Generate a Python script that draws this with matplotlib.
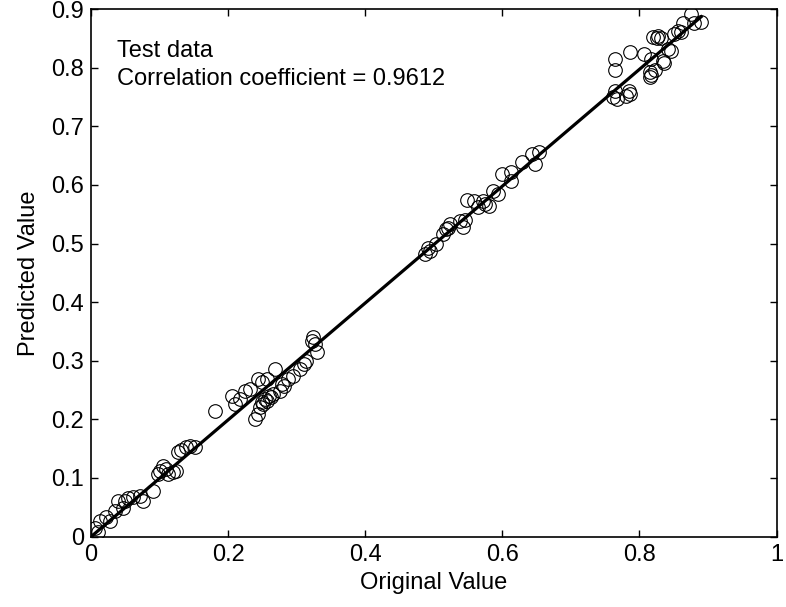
import numpy as np
import matplotlib.pyplot as plt

plt.rcParams['font.family'] = ['Liberation Sans', 'DejaVu Sans']

# original (target) values of the test set
original = [
    0.006, 0.013, 0.010, 0.022, 0.028, 0.035, 0.039, 0.047, 0.050, 0.054,
    0.061, 0.071, 0.076, 0.090, 0.098, 0.100, 0.105, 0.109, 0.112, 0.119,
    0.124, 0.127, 0.131, 0.138, 0.144, 0.151,
    0.180, 0.205, 0.210, 0.217, 0.224, 0.231, 0.239, 0.243, 0.246, 0.249,
    0.250, 0.253, 0.256, 0.260, 0.263, 0.265, 0.249, 0.243, 0.256, 0.268,
    0.275, 0.278, 0.282, 0.287, 0.294, 0.304, 0.311, 0.314, 0.322, 0.323,
    0.329, 0.326,
    0.487, 0.491, 0.494, 0.503, 0.513, 0.517, 0.523, 0.520, 0.538, 0.542,
    0.545, 0.549, 0.559, 0.564, 0.571, 0.575, 0.581, 0.586, 0.593, 0.600,
    0.612, 0.612, 0.629, 0.643, 0.648, 0.654,
    0.764, 0.764, 0.786, 0.806, 0.817, 0.820, 0.827, 0.832, 0.825, 0.835,
    0.836, 0.842, 0.846, 0.851, 0.856, 0.861, 0.864, 0.875, 0.890, 0.880,
    0.815, 0.817, 0.822, 0.815, 0.764, 0.762, 0.767, 0.784, 0.786, 0.780,
]

# network outputs for the same samples
predicted = [
    0.014, 0.027, 0.008, 0.034, 0.027, 0.044, 0.061, 0.048, 0.061, 0.065,
    0.068, 0.070, 0.061, 0.078, 0.107, 0.112, 0.121, 0.116, 0.107, 0.110,
    0.112, 0.145, 0.147, 0.153, 0.155, 0.153,
    0.214, 0.240, 0.226, 0.235, 0.248, 0.252, 0.200, 0.209, 0.221, 0.230,
    0.226, 0.235, 0.231, 0.240, 0.238, 0.243, 0.264, 0.269, 0.269, 0.286,
    0.248, 0.260, 0.257, 0.269, 0.274, 0.286, 0.294, 0.299, 0.333, 0.340,
    0.315, 0.328,
    0.482, 0.493, 0.487, 0.499, 0.516, 0.524, 0.533, 0.527, 0.538, 0.529,
    0.541, 0.575, 0.572, 0.562, 0.572, 0.567, 0.564, 0.589, 0.584, 0.618,
    0.622, 0.606, 0.639, 0.652, 0.635, 0.656,
    0.815, 0.796, 0.826, 0.823, 0.815, 0.852, 0.854, 0.850, 0.850, 0.811,
    0.808, 0.832, 0.829, 0.857, 0.863, 0.861, 0.876, 0.891, 0.878, 0.876,
    0.792, 0.787, 0.796, 0.784, 0.760, 0.750, 0.746, 0.760, 0.755, 0.752,
]

# fitted regression line
fit_x = [0.0, 0.89]
fit_y = [0.0, 0.887]

r_value = 0.9612

fs = 17

fig = plt.figure(figsize=(7.86, 6.07), dpi=100)
ax = fig.add_axes([0.116, 0.116, 0.872, 0.869])

ax.plot(original, predicted, 'o', mfc='none', mec='black', ms=9.8, mew=0.8)
ax.plot(fit_x, fit_y, '-', color='black', lw=2.3)

ax.set_xlim(0, 1)
ax.set_ylim(0, 0.9)
ax.set_xticks([0, 0.2, 0.4, 0.6, 0.8, 1])
ax.set_xticklabels(['0', '0.2', '0.4', '0.6', '0.8', '1'])
ax.set_yticks(np.arange(0, 0.91, 0.1))
ax.set_yticklabels(['0', '0.1', '0.2', '0.3', '0.4', '0.5', '0.6', '0.7', '0.8', '0.9'])
ax.tick_params(direction='in', length=5, width=1, top=True, right=True, labelsize=fs, pad=5)
for s in ax.spines.values():
    s.set_linewidth(1.2)

ax.set_xlabel('Original Value', fontsize=fs, labelpad=5)
ax.set_ylabel('Predicted Value', fontsize=fs, labelpad=8)

ax.text(0.038, 0.828, 'Test data', fontsize=fs, va='center')
ax.text(0.038, 0.780, 'Correlation coefficient = %.4f' % r_value, fontsize=fs, va='center')

fig.savefig('out.png', dpi=100)
